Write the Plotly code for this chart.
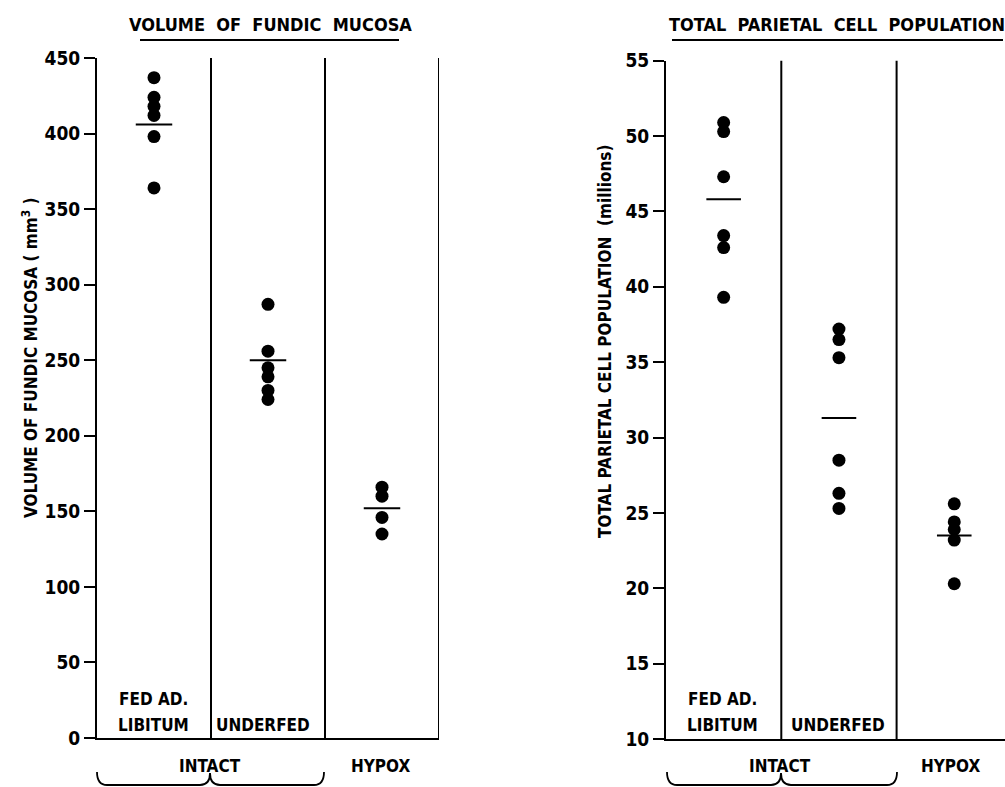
import plotly.graph_objects as go

W, H = 1005, 787
FONT = "DejaVu Sans Condensed, Liberation Sans Narrow, Liberation Sans, sans-serif"

# ---- data ----
group_pos = [0.5, 1.5, 2.5]

vol_fed = [437, 424, 418, 412, 398, 364]
vol_underfed = [287, 256, 245, 239, 230, 224]
vol_hypox = [166, 160, 146, 135]
vol_means = [406, 250, 152]

pc_fed = [50.9, 50.3, 47.3, 43.4, 42.6, 39.3]
pc_underfed = [37.2, 36.5, 35.3, 28.5, 26.3, 25.3]
pc_hypox = [25.6, 24.4, 23.9, 23.2, 20.3]
pc_means = [45.8, 31.3, 23.5]

vol_ticks = [0, 50, 100, 150, 200, 250, 300, 350, 400, 450]
pc_ticks = [10, 15, 20, 25, 30, 35, 40, 45, 50, 55]


def px(x):
    return x / W


def py(y):
    return 1 - y / H


fig = go.Figure()

marker = dict(color="black", size=13, line=dict(width=0))
for vals, pos in zip([vol_fed, vol_underfed, vol_hypox], group_pos):
    fig.add_trace(go.Scatter(x=[pos] * len(vals), y=vals, mode="markers",
                             marker=marker, xaxis="x", yaxis="y", showlegend=False))
for vals, pos in zip([pc_fed, pc_underfed, pc_hypox], group_pos):
    fig.add_trace(go.Scatter(x=[pos] * len(vals), y=vals, mode="markers",
                             marker=marker, xaxis="x2", yaxis="y2", showlegend=False))

shapes = []
# mean lines
for m, pos in zip(vol_means, group_pos):
    shapes.append(dict(type="line", xref="x", yref="y", x0=pos - 0.16, x1=pos + 0.16,
                       y0=m, y1=m, line=dict(color="black", width=2)))
for m, pos in zip(pc_means, group_pos):
    shapes.append(dict(type="line", xref="x2", yref="y2", x0=pos - 0.15, x1=pos + 0.15,
                       y0=m, y1=m, line=dict(color="black", width=2)))
# column dividers
for xv in [1, 2, 3]:
    shapes.append(dict(type="line", xref="x", yref="y domain", x0=xv, x1=xv, y0=0, y1=1,
                       line=dict(color="black", width=2)))
for xv in [1, 2]:
    shapes.append(dict(type="line", xref="x2", yref="y2 domain", x0=xv, x1=xv, y0=0, y1=1,
                       line=dict(color="black", width=2)))
# title underlines
shapes.append(dict(type="line", xref="paper", yref="paper", x0=px(140), x1=px(399),
                   y0=py(40), y1=py(40), line=dict(color="black", width=2)))
shapes.append(dict(type="line", xref="paper", yref="paper", x0=px(672), x1=px(1003),
                   y0=py(40), y1=py(40), line=dict(color="black", width=2)))


# braces
def brace(x0, xm, x1, ytop=772, ybot=785, ycusp=773):
    pts = (f"M {px(x0)},{py(ytop)} Q {px(x0)},{py(ybot)} {px(x0+10)},{py(ybot)} "
           f"L {px(xm-10)},{py(ybot)} Q {px(xm)},{py(ybot)} {px(xm)},{py(ycusp)} "
           f"Q {px(xm)},{py(ybot)} {px(xm+10)},{py(ybot)} "
           f"L {px(x1-10)},{py(ybot)} Q {px(x1)},{py(ybot)} {px(x1)},{py(ytop)}")
    return dict(type="path", xref="paper", yref="paper", path=pts,
                line=dict(color="black", width=1.8))


shapes.append(brace(97, 210, 324))
shapes.append(brace(667, 781, 897))

tfont = dict(family=FONT, size=18, color="black", weight="bold")
lfont = dict(family=FONT, size=17, color="black", weight="bold")


def ann(text, x, y, font=lfont, **kw):
    d = dict(text=text, x=px(x), y=py(y), xref="paper", yref="paper", showarrow=False,
             font=font, xanchor="center", yanchor="middle")
    d.update(kw)
    return d


annotations = [
    ann("VOLUME  OF  FUNDIC  MUCOSA", 270, 24, tfont),
    ann("TOTAL  PARIETAL  CELL  POPULATION", 837, 24, tfont),
    ann("VOLUME OF FUNDIC MUCOSA ( mm<sup>3</sup> )", 30, 358, textangle=-90),
    ann("TOTAL PARIETAL CELL POPULATION  (millions)", 605, 342, textangle=-90),
]
# group labels
for xs, xi, xh in [([153, 263], 210, 380), ([722, 838], 780, 950)]:
    annotations.append(ann("FED AD.", xs[0], 699))
    annotations.append(ann("LIBITUM", xs[0], 725))
    annotations.append(ann("UNDERFED", xs[1], 725))
    annotations.append(ann("INTACT", xi, 766))
    annotations.append(ann("HYPOX", xh, 766))

axis_common = dict(showgrid=False, zeroline=False, showline=True, linecolor="black",
                   linewidth=2, automargin=False)
yaxis_common = dict(axis_common, ticks="outside", ticklen=11, tickwidth=2, tickcolor="black",
                    tickfont=dict(family=FONT, size=19, color="black", weight="bold"))

fig.update_layout(
    template="none",
    width=W, height=H, autosize=False,
    margin=dict(l=0, r=0, t=0, b=0, pad=0),
    paper_bgcolor="white", plot_bgcolor="white",
    showlegend=False,
    xaxis=dict(axis_common, domain=[px(97), px(439)], range=[0, 3], showticklabels=False,
               ticks="", anchor="y"),
    yaxis=dict(yaxis_common, domain=[py(738), py(58)], range=[0, 450], tickvals=vol_ticks,
               anchor="x"),
    xaxis2=dict(axis_common, domain=[px(666), 1.0], range=[0, (1005 - 666) / 115.3],
                showticklabels=False, ticks="", anchor="y2"),
    yaxis2=dict(yaxis_common, domain=[py(739), py(60.7)], range=[10, 55], tickvals=pc_ticks,
                anchor="x2"),
    shapes=shapes,
    annotations=annotations,
)

fig.write_html("out.html")
